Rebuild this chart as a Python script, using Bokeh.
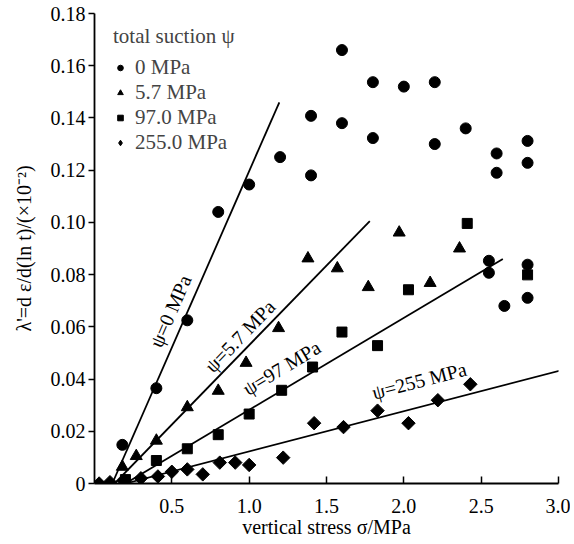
import math
from bokeh.plotting import figure
from bokeh.models import Range1d, Legend, LegendItem
from bokeh.core.properties import value
from bokeh.embed import file_html
from bokeh.resources import INLINE

# ---- data ----
s0 = [0.18, 0.40, 0.60, 0.80, 1.00, 1.20, 1.40, 1.40, 1.60, 1.60, 1.80, 1.80, 2.00,
      2.20, 2.20, 2.40, 2.55, 2.55, 2.60, 2.60, 2.65, 2.80, 2.80, 2.80, 2.80]
l0 = [0.0148, 0.0365, 0.0625, 0.104, 0.1145, 0.125, 0.1408, 0.118, 0.166, 0.138, 0.1537,
      0.1323, 0.152, 0.1537, 0.130, 0.136, 0.0853, 0.0807, 0.1264, 0.119, 0.068, 0.1312,
      0.1228, 0.0838, 0.0711]

s57 = [0.18, 0.27, 0.40, 0.60, 0.80, 0.98, 1.19, 1.38, 1.57, 1.77, 1.97, 2.17, 2.36]
l57 = [0.0064, 0.0105, 0.0164, 0.0292, 0.0355, 0.0462, 0.0595, 0.0862, 0.0824, 0.0752,
       0.0961, 0.0768, 0.090]

s97 = [0.20, 0.40, 0.60, 0.80, 1.00, 1.21, 1.41, 1.60, 1.83, 2.03, 2.41, 2.80]
l97 = [0.0015, 0.0088, 0.0133, 0.0187, 0.0266, 0.0357, 0.0446, 0.058, 0.0528, 0.0742,
       0.0996, 0.0799]

s255 = [0.03, 0.10, 0.19, 0.30, 0.41, 0.50, 0.60, 0.70, 0.81, 0.91, 1.00, 1.22, 1.42,
        1.61, 1.83, 2.03, 2.22, 2.43]
l255 = [0.0, 0.0005, 0.001, 0.002, 0.0027, 0.0045, 0.0054, 0.0035, 0.008, 0.008, 0.0071,
        0.0099, 0.0231, 0.0216, 0.0279, 0.0231, 0.0319, 0.038]

legend_labels = ["0 MPa", "5.7 MPa", "97.0 MPa", "255.0 MPa"]

# fitted lines: start on the x axis, end point
fit_x0 = [0.115, 0.13, 0.20, 0.20]
fit_x1 = [1.195, 1.78, 2.64, 3.02]
fit_y1 = [0.146, 0.1005, 0.086, 0.0434]
fit_labels = ["ψ=0 MPa", "ψ=5.7 MPa", "ψ=97 MPa", "ψ=255 MPa"]
fit_label_x = [0.49, 0.94, 1.21, 2.10]
fit_label_y = [0.066, 0.0564, 0.0443, 0.0394]

xticks = [0.5, 1.0, 1.5, 2.0, 2.5, 3.0]
yticks = [0, 0.02, 0.04, 0.06, 0.08, 0.10, 0.12, 0.14, 0.16, 0.18]

FONT = "Liberation Serif"

W, H = 570, 540
BL, BT, FW, FH = 94, 13, 464, 475
p = figure(width=W, height=H, output_backend="svg", toolbar_location=None,
           x_range=Range1d(0, 3.0), y_range=Range1d(0, 0.18),
           min_border_left=BL, min_border_right=W - BL - FW,
           min_border_top=BT, min_border_bottom=H - BT - FH)
p.outline_line_color = None
p.grid.visible = False
p.background_fill_color = "white"

# axes
p.xaxis.ticker = xticks
p.yaxis.ticker = yticks
p.xaxis.major_label_overrides = {t: f"{t:.1f}" for t in xticks}
p.yaxis.major_label_overrides = {t: ("0" if t == 0 else f"{t:.2f}") for t in yticks}
for ax in (p.xaxis, p.yaxis):
    ax.axis_line_color = "black"
    ax.axis_line_width = 1.8
    ax.major_tick_line_color = "black"
    ax.major_tick_line_width = 1.5
    ax.minor_tick_line_color = None
    ax.major_label_text_font = FONT
    ax.major_label_text_font_size = "20px"
    ax.major_label_text_color = "black"
    ax.axis_label_text_font = FONT
    ax.axis_label_text_font_size = "20px"
    ax.axis_label_text_font_style = "normal"
    ax.axis_label_text_color = "black"
p.xaxis.major_tick_in = 7
p.xaxis.major_tick_out = 0
p.xaxis.major_label_standoff = 15
p.yaxis.major_tick_in = 0
p.yaxis.major_tick_out = 6
p.yaxis.major_label_standoff = 3
p.xaxis.axis_label = "vertical stress σ/MPa"
p.yaxis.axis_label = "λ'=d ε/d(ln t)/(×10⁻²)"
p.xaxis.axis_label_standoff = 0
p.yaxis.axis_label_standoff = 13

# fitted lines
for i in range(4):
    p.line([fit_x0[i], fit_x1[i]], [0, fit_y1[i]], line_color="black", line_width=1.8)

# scatter data
r0 = p.scatter(s0, l0, marker="circle", size=11, color="black")
r1 = p.scatter(s57, l57, marker="triangle", size=12, color="black")
r2 = p.scatter(s97, l97, marker="square", size=10, color="black")
r3 = p.scatter(s255, l255, marker="square", size=9.5, angle=math.pi / 4, color="black")
# legend proxy for the diamond series (legend glyphs ignore angle); no visible point
r3_leg = p.scatter(x=[float("nan")], y=[float("nan")], marker="diamond", size=14, color="black")

# line labels, rotated along the lines
px_per_x = FW / 3.0
px_per_y = FH / 0.18
for i in range(4):
    slope = fit_y1[i] / (fit_x1[i] - fit_x0[i])
    ang = math.degrees(math.atan(slope * px_per_y / px_per_x))
    p.text([fit_label_x[i]], [fit_label_y[i]], text=[fit_labels[i]], angle=ang, angle_units="deg",
           text_font=value(FONT), text_font_size="20px", text_color="black",
           text_align="center", text_baseline="middle")

legend = Legend(items=[LegendItem(label=legend_labels[0], renderers=[r0]),
                       LegendItem(label=legend_labels[1], renderers=[r1]),
                       LegendItem(label=legend_labels[2], renderers=[r2]),
                       LegendItem(label=legend_labels[3], renderers=[r3_leg])],
                location=(19, 328), title="total suction ψ")
legend.title_text_font = FONT
legend.title_text_font_size = "21px"
legend.title_text_font_style = "normal"
legend.title_standoff = 6
legend.label_text_font = FONT
legend.label_text_font_size = "21px"
legend.label_standoff = 8
legend.glyph_width = 14
legend.glyph_height = 25
legend.label_height = 25
legend.spacing = 0
legend.padding = 5
legend.margin = 0
legend.border_line_color = None
legend.background_fill_alpha = 0
p.add_layout(legend)

open("out.html", "w").write(file_html(p, INLINE))
